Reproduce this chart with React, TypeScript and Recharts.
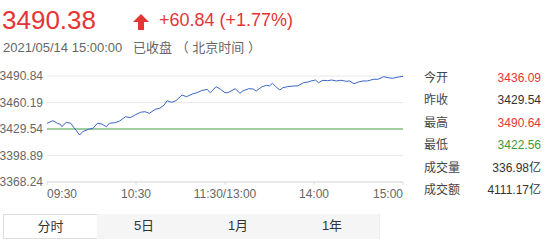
import React from 'react';
import { LineChart, Line, XAxis, YAxis, CartesianGrid, ReferenceLine } from 'recharts';

// minutes since 09:30 (lunch break collapsed)
const minutes = [
  0, 4, 7, 9, 10, 13, 16, 18, 20, 22, 24, 28, 31, 34, 37, 40, 42, 46, 49, 53,
  56, 59, 63, 66, 69, 73, 76, 79, 81, 84, 87, 91, 94, 98, 101, 104, 108, 110, 114, 117,
  120, 122, 124, 127, 130, 132, 136, 139, 141, 145, 148, 150, 152, 155, 157, 159, 162, 166, 169, 173,
  176, 178, 181, 183, 186, 189, 192, 195, 198, 202, 204, 207, 210, 213, 216, 220, 223, 227, 230, 233,
  237, 240,
];
const prices = [
  3436.09, 3439.14, 3436.13, 3434.98, 3432.2, 3437.29, 3436.13, 3431.51, 3427.23, 3422.56,
  3426.42, 3429.19, 3430.35, 3436.13, 3435.32, 3432.2, 3436.13, 3436.83, 3438.79, 3443.77,
  3442.61, 3445.39, 3448.86, 3449.55, 3447.7, 3452.33, 3453.48, 3457.3, 3462.27, 3460.42,
  3462.27, 3468.86, 3466.9, 3470.02, 3471.52, 3473.84, 3475.46, 3471.52, 3478.46, 3475.46,
  3471.52, 3471.52, 3473.49, 3476.15, 3470.83, 3473.49, 3476.15, 3475.8, 3473.49, 3478.46,
  3480.08, 3479.27, 3482.4, 3477.31, 3474.65, 3477.31, 3478.46, 3479.27, 3479.3, 3483.09,
  3483.9, 3485.06, 3486.21, 3483.09, 3485.87, 3485.4, 3486.21, 3485.06, 3485.87, 3484.71,
  3485.06, 3481.93, 3483.9, 3485.06, 3485.1, 3487.02, 3487.0, 3490.03, 3488.87, 3488.18,
  3489.68, 3490.38,
];

const prevClose = 3429.54;
const yTicks = [3368.24, 3398.89, 3429.54, 3460.19, 3490.84];
const xTicks = [0, 60, 120, 180, 240];
const xTickLabels = ['09:30', '10:30', '11:30/13:00', '14:00', '15:00'];

const statLabels = ['今开', '昨收', '最高', '最低', '成交量', '成交额'];
const statValues = ['3436.09', '3429.54', '3490.64', '3422.56', '336.98亿', '4111.17亿'];
const statColors = ['#e63535', '#333', '#e63535', '#3d9a3d', '#333', '#333'];

const tabs = ['分时', '5日', '1月', '1年'];

const data = minutes.map((m, i) => ({ m, price: prices[i] }));

const FONT = '"Liberation Sans", Arial, "Noto Sans CJK SC", sans-serif';
const RED = '#e63535';

function XTick(props: any) {
  const { x, y, payload, index } = props;
  const anchor = index === 0 ? 'start' : index === xTicks.length - 1 ? 'end' : 'middle';
  return (
    <text x={x} y={y + 11} textAnchor={anchor} fontSize={12} fill="#666" fontFamily={FONT}>
      {xTickLabels[xTicks.indexOf(payload.value)]}
    </text>
  );
}

export default function App() {
  return (
    <div style={{ position: 'fixed', left: 0, top: 0, width: 552, height: 242, background: '#fff', fontFamily: FONT, overflow: 'hidden' }}>
      <div style={{ position: 'absolute', left: 2, top: 5, fontSize: 26, color: RED, lineHeight: '30px' }}>3490.38</div>
      <svg style={{ position: 'absolute', left: 133, top: 14 }} width={16} height={16}>
        <polygon points="8,0 16,8 11,8 11,16 5,16 5,8 0,8" fill={RED} />
      </svg>
      <div style={{ position: 'absolute', left: 159, top: 8, fontSize: 18, color: RED, lineHeight: '24px' }}>+60.84 (+1.77%)</div>
      <div style={{ position: 'absolute', left: 3, top: 40, fontSize: 13, color: '#666', lineHeight: '16px', whiteSpace: 'pre' }}>
        {'2021/05/14 15:00:00   已收盘 （ 北京时间 ）'}
      </div>

      <div style={{ position: 'absolute', left: 0, top: 0 }}>
        <LineChart width={410} height={210} data={data} margin={{ top: 76, right: 7, left: 0, bottom: 0 }}>
          <CartesianGrid vertical={false} stroke="#e8e8e8" />
          <XAxis
            dataKey="m"
            type="number"
            domain={[0, 240]}
            ticks={xTicks}
            height={28}
            stroke="#ddd"
            tickSize={3}
            tick={<XTick />}
            interval={0}
          />
          <YAxis
            type="number"
            domain={[yTicks[0], yTicks[yTicks.length - 1]]}
            ticks={yTicks}
            width={47}
            axisLine={false}
            tickLine={false}
            tickSize={2}
            tickMargin={2}
            interval={0}
            tickFormatter={(v: number) => v.toFixed(2)}
            tick={{ fontSize: 12, fill: '#666', fontFamily: FONT }}
          />
          <ReferenceLine y={prevClose} stroke="#4fa84f" strokeWidth={1} />
          <Line type="linear" dataKey="price" stroke="#3a66c4" strokeWidth={1} dot={false} isAnimationActive={false} />
        </LineChart>
      </div>

      {statLabels.map((label, i) => (
        <div key={label} style={{ position: 'absolute', left: 424, top: 70 + i * 22.4, width: 117, fontSize: 12, lineHeight: '16px' }}>
          <span style={{ color: '#444' }}>{label}</span>
          <span style={{ position: 'absolute', right: 0, color: statColors[i] }}>{statValues[i]}</span>
        </div>
      ))}

      {tabs.map((t, i) => (
        <div
          key={t}
          style={{
            position: 'absolute',
            left: 3 + i * 94,
            top: 214,
            width: i === 0 ? 93 : 94,
            height: i === 0 ? 23 : 25,
            border: i === 0 ? '1px solid #ddd' : 'none',
            borderRight: i === 0 ? '1px solid #ddd' : '1px solid #eee',
            background: i === 0 ? '#fff' : '#f5f5f5',
            fontSize: 13,
            color: '#333',
            textAlign: 'center',
            lineHeight: '24px',
            boxSizing: 'content-box',
          }}
        >
          {t}
        </div>
      ))}
    </div>
  );
}
